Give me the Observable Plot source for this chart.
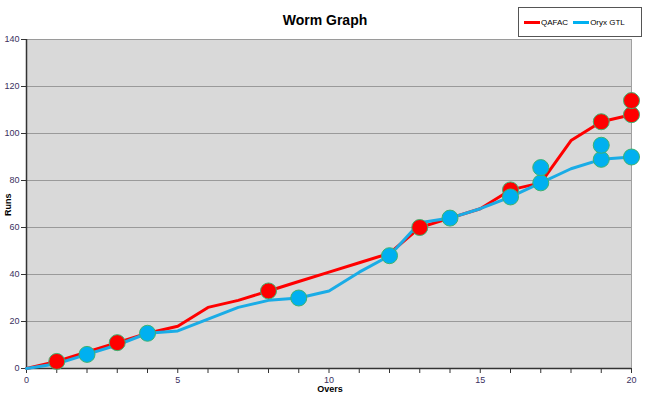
<!DOCTYPE html>
<html>
<head>
<meta charset="utf-8">
<script src="https://cdn.jsdelivr.net/npm/d3@7"></script>
<script src="https://cdn.jsdelivr.net/npm/@observablehq/plot@0.6"></script>
<style>
  body { margin: 0; background: #fff; font-family: "Liberation Sans", Arial, sans-serif; }
  #wrap { position: relative; width: 650px; height: 399px; }
  #title { position: absolute; left: 0; width: 650px; top: 12px; text-align: center; font-weight: bold; font-size: 14px; color: #000; }
  #legend { position: absolute; left: 518px; top: 7px; width: 124px; height: 30px; border: 1px solid #555; box-sizing: border-box; font-size: 8px; color: #000; display: flex; align-items: center; padding-left: 5px; }
  .sw { display: inline-block; width: 16px; height: 3px; margin-right: 1px; vertical-align: middle; }
  .item { display: inline-flex; align-items: center; margin-right: 5px; }
  #ytitle { position: absolute; left: 3px; top: 216px; transform: rotate(-90deg); transform-origin: left top; font-weight: bold; font-size: 9px; }
  #xtitle { position: absolute; left: 0; width: 660px; top: 384px; text-align: center; font-weight: bold; font-size: 9px; }
</style>
</head>
<body>
<div id="wrap">
  <div id="chart"></div>
  <div id="title">Worm Graph</div>
  <div id="legend"></div>
  <div id="ytitle">Runs</div>
  <div id="xtitle">Overs</div>
</div>
<script>
const overs = [0,1,2,3,4,5,6,7,8,9,10,11,12,13,14,15,16,17,18,19,20];
const qafacRuns = [0,3,7,11,15,18,26,29,33,37,41,45,49,60,64,68,76,79,97,105,108];
const oryxRuns  = [0,2,6,10,15,16,21,26,29,30,33,41,48,62,64,68,73,79,85,89,90];

const qafacWktOvers = [1,3,8,13,16,19,20,20];
const qafacWktRuns  = [3,11,33,60,76,105,108,114];
const oryxWktOvers  = [2,4,9,12,14,16,17,17,19,19,20];
const oryxWktRuns   = [6,15,30,48,64,73,79,85.5,89,95,90];

const seriesNames = ["QAFAC", "Oryx GTL"];
const seriesColors = ["#FF0000", "#00B0F0"];
const yTicks = [0,20,40,60,80,100,120,140];
const xTicks = overs;
const xLabelTicks = [0,5,10,15,20];

const qafac = overs.map((o, i) => ({over: o, runs: qafacRuns[i]}));
const oryx = overs.map((o, i) => ({over: o, runs: oryxRuns[i]}));
const qW = qafacWktOvers.map((o, i) => ({over: o, runs: qafacWktRuns[i]}));
const oW = oryxWktOvers.map((o, i) => ({over: o, runs: oryxWktRuns[i]}));

const tickColor = "#3a3060";

const chart = Plot.plot({
  width: 650,
  height: 399,
  marginLeft: 26,
  marginRight: 19,
  marginTop: 39,
  marginBottom: 31,
  style: { fontFamily: "'Liberation Sans', Arial, sans-serif", fontSize: "9px", background: "transparent" },
  x: { domain: [0, 20] },
  y: { domain: [0, 140] },
  marks: [
    Plot.frame({ fill: "#D9D9D9", stroke: "#A0A0A0" }),
    Plot.gridY(yTicks, { stroke: "#9a9a9a", strokeOpacity: 1, strokeWidth: 1 }),
    Plot.axisY(yTicks, { tickSize: 5, tickPadding: 2, stroke: "#333", label: null, fill: tickColor }),
    Plot.axisX(xTicks, { tickSize: 5, tickPadding: 3, stroke: "#333", label: null, fill: tickColor,
      tickFormat: d => xLabelTicks.includes(d) ? String(d) : "" }),
    Plot.ruleX([0], { stroke: "#333", strokeWidth: 1.5 }),
    Plot.ruleY([0], { stroke: "#333", strokeWidth: 1.5 }),
    Plot.line(qafac, { x: "over", y: "runs", stroke: seriesColors[0], strokeWidth: 3 }),
    Plot.line(oryx, { x: "over", y: "runs", stroke: "#1AACE6", strokeWidth: 3 }),
    Plot.dot(qW, { x: "over", y: "runs", r: 8, fill: seriesColors[0], stroke: "#3CB371", strokeWidth: 1, symbol: "circle" }),
    Plot.dot(oW, { x: "over", y: "runs", r: 8, fill: seriesColors[1], stroke: "#3CB371", strokeWidth: 1, symbol: "circle" })
  ]
});
document.getElementById("chart").appendChild(chart);

const legend = document.getElementById("legend");
seriesNames.forEach((n, i) => {
  const item = document.createElement("span");
  item.className = "item";
  const sw = document.createElement("span");
  sw.className = "sw";
  sw.style.background = seriesColors[i];
  item.appendChild(sw);
  item.appendChild(document.createTextNode(n));
  legend.appendChild(item);
});
</script>
</body>
</html>
